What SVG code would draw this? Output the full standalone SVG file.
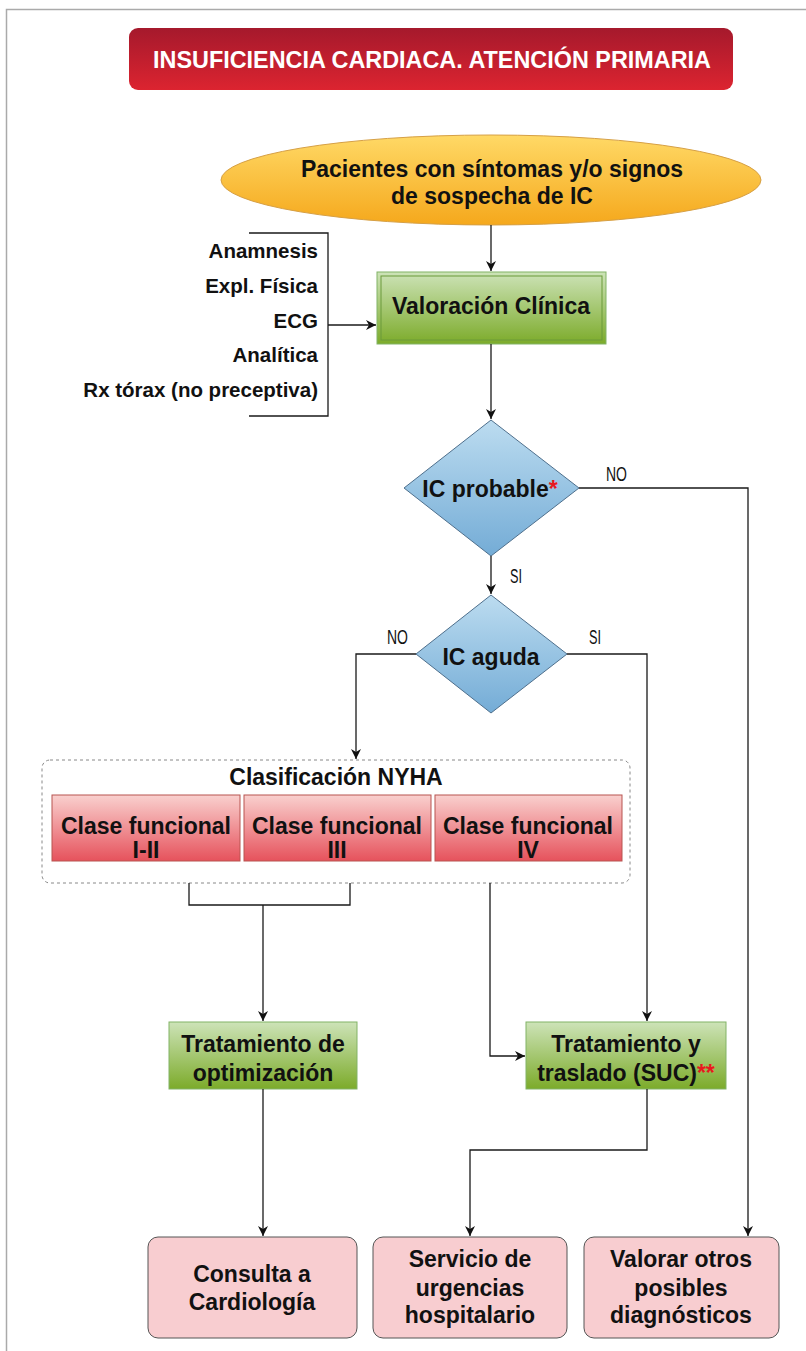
<svg xmlns="http://www.w3.org/2000/svg" width="806" height="1351" viewBox="0 0 806 1351">
<defs>
<linearGradient id="gTitle" x1="0" y1="0" x2="0" y2="1"><stop offset="0" stop-color="#a5192c"/><stop offset="1" stop-color="#dc2430"/></linearGradient>
<linearGradient id="gOrange" x1="0" y1="0" x2="0" y2="1"><stop offset="0" stop-color="#ffd966"/><stop offset="1" stop-color="#f5a81c"/></linearGradient>
<linearGradient id="gGreen" x1="0" y1="0" x2="0" y2="1"><stop offset="0" stop-color="#cde3b8"/><stop offset="1" stop-color="#7cab2a"/></linearGradient>
<linearGradient id="gBlue" x1="0" y1="0" x2="0" y2="1"><stop offset="0" stop-color="#bcdcf0"/><stop offset="1" stop-color="#74acd6"/></linearGradient>
<linearGradient id="gRed" x1="0" y1="0" x2="0" y2="1"><stop offset="0" stop-color="#f9d0ce"/><stop offset="1" stop-color="#e6525c"/></linearGradient>
<marker id="arr" viewBox="0 0 10 10" refX="10" refY="5" markerWidth="10" markerHeight="10" markerUnits="userSpaceOnUse" orient="auto"><path d="M0,0 L10,5 L0,10 L3,5 Z" fill="#111"/></marker>
</defs>
<style>
text{font-family:"Liberation Sans",Arial,sans-serif;font-weight:bold;fill:#111;}
.t{font-size:23px;text-anchor:middle;}
.l{font-size:20.5px;text-anchor:end;}
.lab{font-weight:normal;font-size:20px;}
.red{fill:#e8191f;}
.c{fill:none;stroke:#1a1a1a;stroke-width:1.3;}
.green{fill:url(#gGreen);stroke:#82b366;stroke-width:1;}
.blue{fill:url(#gBlue);stroke:#4e6f8c;stroke-width:1;}
.redbox{fill:url(#gRed);stroke:#b85450;stroke-width:1;}
.pink{fill:#f8cdd0;stroke:#555;stroke-width:1;}
</style>
<rect width="806" height="1351" fill="#fff"/>
<path d="M6.5,1351 V9.5 H806" fill="none" stroke="#aaa" stroke-width="1.5"/>

<g id="title">
<rect x="129" y="28" width="604" height="62" rx="9" fill="url(#gTitle)"/>
<text x="432" y="68" style="font-size:23.4px;fill:#fff;text-anchor:middle">INSUFICIENCIA CARDIACA. ATENCIÓN PRIMARIA</text>
</g>

<g id="pacientes">
<ellipse cx="491" cy="180" rx="270" ry="45" fill="url(#gOrange)" stroke="#d6a046" stroke-width="1"/>
<text class="t" x="492" y="177">Pacientes con síntomas y/o signos</text>
<text class="t" x="492" y="204">de sospecha de IC</text>
</g>

<g id="pruebas">
<text class="l" x="318" y="258">Anamnesis</text>
<text class="l" x="318" y="293">Expl. Física</text>
<text class="l" x="318" y="328">ECG</text>
<text class="l" x="318" y="362">Analítica</text>
<text class="l" x="318" y="397">Rx tórax (no preceptiva)</text>
</g>

<g id="valoracion">
<rect x="377" y="272" width="229" height="72" class="green"/>
<rect x="381" y="276" width="221" height="64" fill="none" stroke="#6a9a3a" stroke-width="1"/>
<text class="t" x="491" y="314">Valoración Clínica</text>
</g>

<g id="icprobable">
<polygon points="491,420 579,488 491,556 404,488" class="blue"/>
<text class="t" x="490" y="497">IC probable<tspan class="red">*</tspan></text>
</g>

<g id="icaguda">
<polygon points="491,595 567,654 491,713 416,654" class="blue"/>
<text class="t" x="491" y="665">IC aguda</text>
</g>

<g id="nyha">
<rect x="42" y="760" width="588" height="123" rx="8" fill="none" stroke="#888" stroke-width="1" stroke-dasharray="3 3"/>
<text class="t" x="336" y="785">Clasificación NYHA</text>
</g>
<g id="clase12">
<rect x="52" y="795" width="188" height="66" class="redbox"/>
<text class="t" x="146" y="834">Clase funcional</text>
<text class="t" x="146" y="858">I-II</text>
</g>
<g id="clase3">
<rect x="244" y="795" width="187" height="66" class="redbox"/>
<text class="t" x="337" y="834">Clase funcional</text>
<text class="t" x="337" y="858">III</text>
</g>
<g id="clase4">
<rect x="435" y="795" width="187" height="66" class="redbox"/>
<text class="t" x="528" y="834">Clase funcional</text>
<text class="t" x="528" y="858">IV</text>
</g>

<g id="optimizacion">
<rect x="169" y="1022" width="188" height="67" class="green"/>
<text class="t" x="263" y="1052">Tratamiento de</text>
<text class="t" x="263" y="1081">optimización</text>
</g>
<g id="traslado">
<rect x="526" y="1022" width="200" height="67" class="green"/>
<text class="t" x="626" y="1052">Tratamiento y</text>
<text class="t" x="626" y="1081">traslado (SUC)<tspan class="red">**</tspan></text>
</g>

<g id="cardiologia">
<rect x="148" y="1237" width="209" height="101" rx="10" class="pink"/>
<text class="t" x="252" y="1282">Consulta a</text>
<text class="t" x="252" y="1310">Cardiología</text>
</g>
<g id="urgencias">
<rect x="373" y="1237" width="194" height="101" rx="10" class="pink"/>
<text class="t" x="470" y="1267">Servicio de</text>
<text class="t" x="470" y="1296">urgencias</text>
<text class="t" x="470" y="1323">hospitalario</text>
</g>
<g id="otros">
<rect x="584" y="1237" width="195" height="101" rx="10" class="pink"/>
<text class="t" x="681" y="1267">Valorar otros</text>
<text class="t" x="681" y="1296">posibles</text>
<text class="t" x="681" y="1323">diagnósticos</text>
</g>

<g id="connectors">
<path class="c" d="M491,225 V271" marker-end="url(#arr)"/>
<path class="c" d="M249,233 H328 V416 H249"/>
<path class="c" d="M328,325 H376" marker-end="url(#arr)"/>
<path class="c" d="M491,344 V419" marker-end="url(#arr)"/>
<path class="c" d="M579,488 H748 V1236" marker-end="url(#arr)"/>
<path class="c" d="M491,556 V594" marker-end="url(#arr)"/>
<path class="c" d="M416,654 H356 V759" marker-end="url(#arr)"/>
<path class="c" d="M567,654 H647 V1021" marker-end="url(#arr)"/>
<path class="c" d="M189,883 V905 H350 V883"/>
<path class="c" d="M263,905 V1021" marker-end="url(#arr)"/>
<path class="c" d="M490,883 V1056 H525" marker-end="url(#arr)"/>
<path class="c" d="M263,1089 V1236" marker-end="url(#arr)"/>
<path class="c" d="M647,1089 V1150 H470 V1236" marker-end="url(#arr)"/>
<text class="lab" x="606" y="481" textLength="21" lengthAdjust="spacingAndGlyphs">NO</text>
<text class="lab" x="510" y="583" textLength="12" lengthAdjust="spacingAndGlyphs">SI</text>
<text class="lab" x="387" y="644" textLength="21" lengthAdjust="spacingAndGlyphs">NO</text>
<text class="lab" x="589" y="644" textLength="12" lengthAdjust="spacingAndGlyphs">SI</text>
</g>
</svg>
